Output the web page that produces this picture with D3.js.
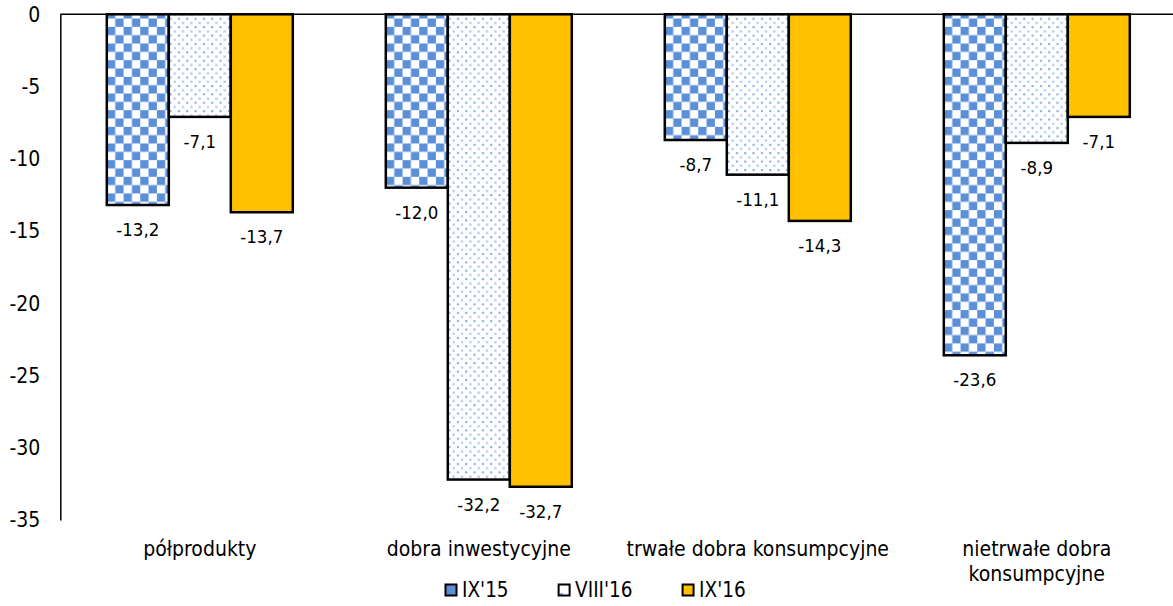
<!DOCTYPE html>
<html>
<head>
<meta charset="utf-8">
<script src="https://cdn.jsdelivr.net/npm/d3@7"></script>
<style>
  html, body { margin: 0; padding: 0; background: #fff; }
  svg { display: block; }
  text { font-family: "DejaVu Sans Condensed", "DejaVu Sans", sans-serif; fill: #000; }
</style>
</head>
<body>
<svg id="chart" width="1173" height="606"></svg>
<script>
// Categories, series and values
const categories = ["półprodukty", "dobra inwestycyjne", "trwałe dobra konsumpcyjne", "nietrwałe dobra konsumpcyjne"];
const categoryLines = [["półprodukty"], ["dobra inwestycyjne"], ["trwałe dobra konsumpcyjne"], ["nietrwałe dobra", "konsumpcyjne"]];
const series = ["IX'15", "VIII'16", "IX'16"];
const valuesIX15 = [-13.2, -12.0, -8.7, -23.6];
const valuesVIII16 = [-7.1, -32.2, -11.1, -8.9];
const valuesIX16 = [-13.7, -32.7, -14.3, -7.1];
const yTicks = [0, -5, -10, -15, -20, -25, -30, -35];

const seriesValues = [valuesIX15, valuesVIII16, valuesIX16];
const fills = ["url(#checker)", "url(#dots)", "#FFC000"];
const legendFills = ["#5B8FD8", "url(#dotsSmall)", "#FFC000"];

const svg = d3.select("#chart");
const W = 1173;
const plotLeft = 60.3, plotRight = 1176.3, plotTop = 14.3, plotBottom = 520;

// Fill patterns
const defs = svg.append("defs");
const chk = defs.append("pattern").attr("id", "checker")
  .attr("patternUnits", "userSpaceOnUse").attr("width", 16.66).attr("height", 16.66)
  .attr("x", 13.3).attr("y", 10.2);
chk.append("rect").attr("width", 16.66).attr("height", 16.66).attr("fill", "#fff");
chk.append("rect").attr("width", 8.33).attr("height", 8.33).attr("fill", "#5B8FD8");
chk.append("rect").attr("x", 8.33).attr("y", 8.33).attr("width", 8.33).attr("height", 8.33).attr("fill", "#5B8FD8");

const dots = defs.append("pattern").attr("id", "dots")
  .attr("patternUnits", "userSpaceOnUse").attr("width", 8.33).attr("height", 8.4);
dots.append("rect").attr("width", 8.33).attr("height", 8.4).attr("fill", "#fff");
dots.append("rect").attr("x", 1).attr("y", 1).attr("width", 2).attr("height", 2).attr("fill", "#5B8FD8").attr("opacity", 0.8);
dots.append("rect").attr("x", 5).attr("y", 5.1).attr("width", 2.2).attr("height", 2.2).attr("fill", "#9DBDE9").attr("opacity", 0.85);

const dotsS = defs.append("pattern").attr("id", "dotsSmall")
  .attr("patternUnits", "userSpaceOnUse").attr("width", 12).attr("height", 12);
dotsS.append("rect").attr("width", 12).attr("height", 12).attr("fill", "#fff");
dotsS.append("rect").attr("x", 2).attr("y", 5).attr("width", 2).attr("height", 2).attr("fill", "#5B8FD8");

// Scales
const y = d3.scaleLinear().domain([-35, 0]).range([plotBottom, plotTop]);
const x0 = d3.scaleBand().domain(categories).range([plotLeft, plotRight]).padding(0);
const bw = x0.bandwidth();
const x1 = d3.scaleBand().domain(series).range([bw / 6, bw * 5 / 6]).padding(0);

const fmt = v => d3.format(".1f")(v).replace(".", ",").replace("−", "-");

// Bars
const groups = svg.append("g").selectAll("g")
  .data(categories).join("g")
  .attr("transform", d => `translate(${x0(d)},0)`);

groups.selectAll("rect")
  .data((c, i) => series.map((s, j) => ({ s, j, v: seriesValues[j][i] })))
  .join("rect")
  .attr("x", d => x1(d.s))
  .attr("y", y(0))
  .attr("width", x1.bandwidth())
  .attr("height", d => y(d.v) - y(0))
  .attr("fill", d => fills[d.j])
  .attr("stroke", "#000")
  .attr("stroke-width", 2.5);

// Value labels under bar ends
groups.selectAll("text.val")
  .data((c, i) => series.map((s, j) => ({ s, j, v: seriesValues[j][i] })))
  .join("text").attr("class", "val")
  .attr("x", d => x1(d.s) + x1.bandwidth() / 2)
  .attr("y", d => y(d.v) + 31)
  .attr("text-anchor", "middle")
  .style("font-size", "18.5px")
  .text(d => fmt(d.v));

// Zero line
svg.append("line")
  .attr("x1", plotLeft).attr("x2", W)
  .attr("y1", y(0)).attr("y2", y(0))
  .attr("stroke", "#000").attr("stroke-width", 1.5);

// Y axis
const yAxis = d3.axisLeft(y).tickValues(yTicks).tickSize(0).tickPadding(20)
  .tickFormat(d => String(d).replace("−", "-"));
const ya = svg.append("g").attr("transform", `translate(${plotLeft},0)`).call(yAxis);
ya.select(".domain").attr("stroke", "#000").attr("stroke-width", 1.5);
ya.selectAll("text")
  .style("font-size", "21px")
  .style("font-family", "'DejaVu Sans Condensed', 'DejaVu Sans', sans-serif")
  .attr("fill", "#000");

// Category labels
const cat = svg.append("g").selectAll("text")
  .data(categories).join("text")
  .attr("text-anchor", "middle")
  .attr("y", 556)
  .style("font-size", "21px");
cat.each(function (d, i) {
  const t = d3.select(this);
  categoryLines[i].forEach((line, k) => {
    t.append("tspan")
      .attr("x", x0(d) + bw / 2)
      .attr("dy", k === 0 ? 0 : 25)
      .text(line);
  });
});

// Legend
const legend = svg.append("g");
let lx = 445.5;
series.forEach((s, j) => {
  const g = legend.append("g").attr("transform", `translate(${lx},0)`);
  g.append("rect").attr("x", 0).attr("y", 584.5).attr("width", 11).attr("height", 11)
    .attr("fill", legendFills[j]).attr("stroke", "#000").attr("stroke-width", 2);
  const t = g.append("text").attr("x", 16.5).attr("y", 597)
    .style("font-size", "20.5px").text(s);
  lx += 16.5 + t.node().getComputedTextLength() + 50;
});
</script>
</body>
</html>
